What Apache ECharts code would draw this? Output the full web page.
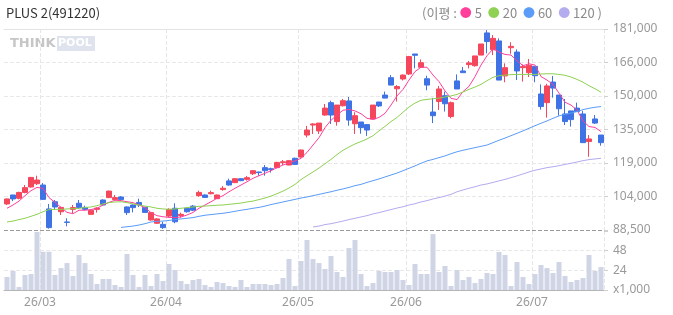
<!DOCTYPE html>
<html>
<head>
<meta charset="utf-8">
<script src="https://cdn.jsdelivr.net/npm/echarts@6/dist/echarts.min.js"></script>
<style>
  html, body { margin: 0; padding: 0; background: #fff; }
  #chart { width: 673px; height: 315px; }
</style>
</head>
<body>
<div id="chart"></div>
<script>
// trading days (yy/mm/dd)
const categories = [
  '26/02/20','26/02/23','26/02/24','26/02/25','26/02/26','26/02/27',
  '26/03/03','26/03/04','26/03/05','26/03/06','26/03/09','26/03/10','26/03/11','26/03/12','26/03/13','26/03/16','26/03/17',
  '26/03/18','26/03/19','26/03/20','26/03/23','26/03/24','26/03/25','26/03/26','26/03/27','26/03/30','26/03/31',
  '26/04/01','26/04/02','26/04/03','26/04/06','26/04/07','26/04/08','26/04/09','26/04/10','26/04/13','26/04/14','26/04/15',
  '26/04/16','26/04/17','26/04/20','26/04/21','26/04/22','26/04/23','26/04/24','26/04/27','26/04/28','26/04/29','26/04/30',
  '26/05/04','26/05/06','26/05/07','26/05/08','26/05/11','26/05/12','26/05/13','26/05/14','26/05/15','26/05/18','26/05/19',
  '26/05/20','26/05/21','26/05/22','26/05/26','26/05/27','26/05/28','26/05/29',
  '26/06/01','26/06/02','26/06/04','26/06/05','26/06/08','26/06/09','26/06/10','26/06/11','26/06/12','26/06/15','26/06/16',
  '26/06/17','26/06/18','26/06/19','26/06/22','26/06/23','26/06/24','26/06/25','26/06/26','26/06/29','26/06/30',
  '26/07/01','26/07/02','26/07/03','26/07/06','26/07/07','26/07/08','26/07/09','26/07/10','26/07/13','26/07/14','26/07/15','26/07/16'
];

const openP = [100500,104600,103100,105800,108300,109800,109200,98200,101500,96900,
  92200,98000,100800,98900,95700,98000,102300,103400,102500,103700,
  99100,100000,101200,98900,93100,91600,91100,94900,98500,95100,
  98500,99500,104300,104600,105200,102900,107100,111100,110300,112100,
  111800,114400,115200,117200,116700,117200,119500,118400,121500,122100,
  132200,136800,134100,141400,147100,138400,145700,147900,137400,138200,
  137000,139600,147400,150600,158600,153500,158000,160300,169500,163400,
  158100,142800,147600,150300,140700,157100,161700,164600,164100,169000,
  179200,171500,175500,159400,172400,170400,163200,160900,163800,151100,
  147100,156600,150600,141900,143300,144600,141900,129200,139600,132200];

const closeP = [102800,102800,105800,108000,112700,111500,102600,89600,99100,98900,
  92000,98800,98900,98000,97600,98600,100000,106400,103400,102500,
  96500,98800,100000,96600,96500,93600,89600,98000,92300,95700,
  96900,97600,105800,103500,105700,104600,107700,109200,112100,111200,
  112600,115800,114900,115800,116300,119600,119900,120400,118700,125300,
  134500,137300,137700,144600,141400,146000,148000,139100,141100,135600,
  134500,146000,145600,149200,155200,154500,159800,168300,168900,165500,
  155200,141100,153400,146600,147100,153400,160900,165400,168600,174100,
  175200,176700,157500,163200,173000,161700,163800,164300,159500,145300,
  154800,153800,144300,138400,139300,143000,128700,130400,137700,128700];

const lowP = [100000,101800,102600,105400,108000,109200,102300,89100,97700,95400,
  90200,96200,98200,97600,95600,96500,99900,103200,102000,102000,
  95400,96600,99100,96500,92800,91300,89000,94200,91600,94200,
  96500,97200,103800,103400,104900,102800,106600,108900,110100,111000,
  111200,113800,113500,113500,114900,116900,118400,118300,118400,121800,
  131100,132700,132700,141100,137300,136500,145300,136500,132700,132800,
  131800,139600,145100,149200,155200,147600,157300,159800,162900,163200,
  152800,137700,143700,143000,139900,153400,160900,162900,163700,169000,
  169800,169000,157500,156500,169600,157500,156800,158900,156500,143900,
  140200,149400,141100,136800,136100,143000,128700,122200,137300,127300];

const highP = [103000,104700,106100,109200,112900,113500,110100,100500,102300,99200,
  93900,100000,102300,99700,97700,98900,102600,106600,104600,104100,
  99400,100300,102900,99200,96600,93900,92300,98500,100800,96500,
  98800,100000,106600,104900,106600,104800,108700,112100,112400,112300,
  113400,116000,115300,118400,117200,119900,120700,120600,121800,125500,
  136400,137700,137700,146500,148000,146000,148800,149700,142700,138200,
  137000,146000,147400,152200,159800,155200,160100,168600,169500,167000,
  159500,149300,154800,152200,147600,160100,163500,166300,168600,174100,
  180500,178200,176700,165200,174900,171600,164700,167200,163800,155500,
  155800,159400,150600,148800,143300,147100,143300,132200,141400,132200];

// moving averages
const ma5 = [98500,100000,101800,104300,106600,108100,107700,103400,101200,98900,
  96600,96000,97600,97600,97900,98500,100000,101200,102200,102000,
  101500,101100,100000,98800,96500,95100,94600,94300,94200,94500,
  95400,96600,98500,100000,101500,103100,104300,106100,107700,109200,
  110700,112300,113500,114600,115800,117200,118400,119300,120300,121500,
  124200,127600,131000,135600,139000,141400,143600,144000,143300,142000,
  139900,139400,140300,142200,146000,150200,153200,157500,161400,163400,
  163400,159800,156800,152500,149100,148500,152200,154600,159100,164400,
  168700,171800,170400,169300,169000,166400,164100,165000,164400,159100,
  157500,155500,151500,147300,146000,143700,138700,136100,135700,133800];

const ma20 = [92200,92600,93300,93900,94800,95700,96900,97900,98000,98000,
  98200,98300,98500,98800,99100,99700,100500,101100,101400,101500,
  101100,100500,100000,99500,99100,98500,98200,98000,98200,98500,
  98800,99100,99400,99500,99700,99900,100000,100300,100600,100900,
  101400,101800,102500,103200,104100,105200,106400,107800,109500,111700,
  113500,115200,117000,119000,121000,123200,125200,126700,128100,129200,
  130400,131900,134100,136200,138400,140300,142700,145100,146900,148200,
  148600,148900,149200,149700,150200,150900,152000,153200,154300,155500,
  157200,158800,159500,159800,160000,160100,160100,160100,160100,160300,
  160400,160400,160100,159700,158900,157800,156500,154900,153500,151900];

const ma60 = new Array(19).fill(null).concat([
  89700,90000,90300,90800,91400,92200,92500,92600,92900,93300,
  93600,93900,94200,94800,95300,95600,95900,96200,96600,97100,
  97600,98000,98500,98900,99500,100200,100800,101400,102000,102600,
  103200,103700,104300,104900,105500,106100,106800,107400,108100,108900,
  109500,110400,111200,112000,112900,113800,114700,115800,116900,118000,
  119200,120300,121000,121800,122600,123600,124500,125200,125800,126400,
  127000,127600,128700,129800,130800,131900,133000,134100,135300,136500,
  137600,138700,139900,141000,141700,142300,143000,143900,144500,145000,145300]);

const ma120 = new Array(51).fill(null).concat([
  89900,90300,91000,91400,92000,92600,93300,93900,94500,95100,
  95900,96500,97200,97900,98600,99200,100000,100600,101400,102000,
  102800,103400,104100,104900,106100,106900,107700,108400,109200,109700,
  110400,111100,111800,112600,113400,114300,115200,116000,116600,117200,
  117600,118100,118700,119200,119800,120400,120900,121200,121500]);

// volume, x1,000
const volume = [15.9,23.2,3.7,18.3,19.5,70.8,46.7,46.7,18.3,26.8,
  32.9,17.1,42.7,32.9,19.5,7.3,13.4,13.4,6.1,3.7,
  43.9,18.3,3.7,18.3,4.9,19.5,11,31.7,24.4,11,
  7.3,12.2,13.4,6.1,3.7,9.8,8.5,4.9,3.7,12.2,
  3.7,7.3,7.3,7.3,6.1,7.3,14.6,37.8,4.9,35.4,
  61,37.8,32.9,25.6,41.5,22,15.9,51.2,61,19.5,
  4.9,8.5,23.2,22,22,24.4,12.2,6.1,31.7,19.5,
  19.5,68.3,22,29.3,4.9,24.4,12.2,15.9,8.5,13.4,
  20.7,19.5,46.4,42.7,4.9,34.2,15.9,7.3,19.5,30.5,
  26.8,20.7,34.2,17.1,9.8,12.2,14.6,42.7,23.2,28];

const priceTicks = ['88,500','104,000','119,000','135,000','150,000','166,000','181,000'];
const volTicks = ['x1,000','24','48',''];

const UP = '#f5475c';
const DOWN = '#3f72e4';

// first trading day of each month -> vertical line + label
function isMonthStart(index) {
  return index > 0 && categories[index].slice(0, 5) !== categories[index - 1].slice(0, 5);
}

const candleData = openP.map((o, i) => [o, closeP[i], lowP[i], highP[i]]);

const chart = echarts.init(document.getElementById('chart'));

const option = {
  animation: false,
  backgroundColor: '#fff',
  textStyle: { fontFamily: 'Noto Sans' },
  title: [
    {
      text: 'PLUS 2(491220)',
      left: 1,
      top: 2,
      textStyle: { fontSize: 13, fontWeight: 'normal', color: '#333', fontFamily: 'Noto Sans CJK KR' },
    },
    {
      text: '(이평 : {p|●} 5  {g|●} 20  {b|●} 60  {l|●} 120 )',
      right: 66,
      top: 2,
      textStyle: {
        fontSize: 13,
        fontWeight: 'normal',
        color: '#8a8a8a',
        fontFamily: 'Noto Sans CJK KR',
        rich: {
          p: { color: '#ff3f9b', fontSize: 12 },
          g: { color: '#8fd152', fontSize: 12 },
          b: { color: '#5a9cf8', fontSize: 12 },
          l: { color: '#b3acef', fontSize: 12 },
        },
      },
    },
  ],
  // THINKPOOL watermark
  graphic: [
    {
      type: 'text',
      left: 10,
      top: 37,
      style: { text: 'THINK', fill: '#c6c6c6', font: 'bold 13px "DejaVu Sans"' },
    },
    {
      type: 'rect',
      left: 57,
      top: 36,
      shape: { width: 38, height: 15 },
      style: { fill: '#dfe3ee' },
    },
    {
      type: 'text',
      left: 58,
      top: 38,
      style: { text: 'POOL', fill: '#ffffff', font: 'bold 11px "DejaVu Sans"' },
    },
  ],
  grid: [
    { left: 4, right: 69, top: 29, height: 201 },
    { left: 4, right: 69, top: 231, height: 59 },
  ],
  xAxis: [
    {
      type: 'category',
      gridIndex: 0,
      data: categories,
      position: 'top',
      boundaryGap: true,
      axisLine: { show: true, lineStyle: { color: '#e3e3e3' } },
      axisTick: { show: false },
      axisLabel: { show: false },
      splitLine: {
        show: true,
        interval: isMonthStart,
        lineStyle: { color: '#e6e6e6', type: 'dashed' },
      },
    },
    {
      type: 'category',
      gridIndex: 1,
      data: categories,
      boundaryGap: true,
      axisLine: { show: true, lineStyle: { color: '#b5b5b5' } },
      axisTick: { show: false },
      axisLabel: {
        interval: isMonthStart,
        color: '#999',
        fontSize: 12,
        margin: 7,
        padding: [0, 6, 0, 0],
        formatter: function (value) {
          return value.slice(0, 5);
        },
      },
      splitLine: {
        show: true,
        interval: isMonthStart,
        lineStyle: { color: '#e6e6e6', type: 'dashed' },
      },
    },
  ],
  yAxis: [
    {
      type: 'value',
      gridIndex: 0,
      position: 'right',
      min: 88500,
      max: 181000,
      interval: 15416.67,
      axisLine: { show: false },
      axisTick: { show: true, length: 4, lineStyle: { color: '#cfcfcf' } },
      axisLabel: {
        color: '#999',
        fontSize: 12,
        margin: 9,
        formatter: function (value, index) {
          return priceTicks[index];
        },
      },
      splitLine: {
        show: true,
        lineStyle: {
          type: 'dashed',
          color: ['#9a9a9a', '#e8e8e8', '#e8e8e8', '#e8e8e8', '#e8e8e8', '#e8e8e8', '#e8e8e8'],
        },
      },
    },
    {
      type: 'value',
      gridIndex: 1,
      position: 'right',
      min: 0,
      max: 72,
      interval: 24,
      axisLine: { show: false },
      axisTick: { show: true, length: 4, lineStyle: { color: '#cfcfcf' } },
      axisLabel: {
        color: '#999',
        fontSize: 12,
        margin: 9,
        formatter: function (value, index) {
          return volTicks[index];
        },
      },
      splitLine: {
        show: true,
        lineStyle: { type: 'dashed', color: ['rgba(0,0,0,0)', '#e8e8e8', '#e8e8e8', 'rgba(0,0,0,0)'] },
      },
    },
  ],
  series: [
    {
      name: 'price',
      type: 'candlestick',
      xAxisIndex: 0,
      yAxisIndex: 0,
      barWidth: 5,
      itemStyle: {
        color: UP,
        color0: DOWN,
        borderColor: UP,
        borderColor0: DOWN,
        borderWidth: 1,
      },
      data: candleData,
    },
    {
      name: 'MA5',
      type: 'line',
      xAxisIndex: 0,
      yAxisIndex: 0,
      showSymbol: false,
      lineStyle: { color: '#ff3f9b', width: 1 },
      data: ma5,
    },
    {
      name: 'MA20',
      type: 'line',
      xAxisIndex: 0,
      yAxisIndex: 0,
      showSymbol: false,
      lineStyle: { color: '#8fd152', width: 1 },
      data: ma20,
    },
    {
      name: 'MA60',
      type: 'line',
      xAxisIndex: 0,
      yAxisIndex: 0,
      showSymbol: false,
      lineStyle: { color: '#5a9cf8', width: 1 },
      data: ma60,
    },
    {
      name: 'MA120',
      type: 'line',
      xAxisIndex: 0,
      yAxisIndex: 0,
      showSymbol: false,
      lineStyle: { color: '#b3acef', width: 1 },
      data: ma120,
    },
    {
      name: 'volume',
      type: 'bar',
      xAxisIndex: 1,
      yAxisIndex: 1,
      barWidth: 5,
      itemStyle: { color: '#d0d5e6' },
      data: volume,
    },
  ],
};

chart.setOption(option);
</script>
</body>
</html>
